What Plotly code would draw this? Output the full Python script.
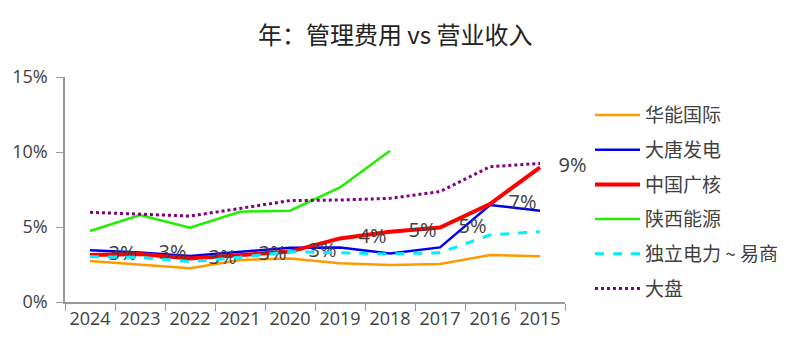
import plotly.graph_objects as go

years = ["2024", "2023", "2022", "2021", "2020", "2019", "2018", "2017", "2016", "2015"]

huaneng = [2.73, 2.47, 2.25, 2.80, 2.90, 2.58, 2.47, 2.53, 3.13, 3.05]
datang = [3.45, 3.30, 3.07, 3.36, 3.62, 3.64, 3.24, 3.64, 6.47, 6.09]
cgn = [3.13, 3.20, 2.90, 3.13, 3.36, 4.24, 4.69, 4.96, 6.53, 8.98]
shaanxi = [4.73, 5.80, 4.96, 6.02, 6.09, 7.64, 10.09, None, None, None]
duli = [3.02, 2.98, 2.69, 2.98, 3.36, 3.29, 3.20, 3.29, 4.47, 4.69]
dapan = [5.98, 5.87, 5.73, 6.24, 6.76, 6.80, 6.91, 7.36, 9.02, 9.24]

cgn_labels = [f"{round(v):.0f}%" for v in cgn]

FONT = "Noto Sans CJK SC, Noto Sans, sans-serif"
LAT = "Open Sans, Noto Sans CJK SC, sans-serif"
TXT = "#404040"

fig = go.Figure()
fig.add_trace(go.Scatter(x=years, y=huaneng, name="华能国际", mode="lines", legendgroup="a",
                         line=dict(color="#FF9900", width=2.5)))
fig.add_trace(go.Scatter(x=years, y=datang, name="大唐发电", mode="lines", legendgroup="b",
                         line=dict(color="#0000EE", width=2.5)))
fig.add_trace(go.Scatter(x=years, y=cgn, name="中国广核", mode="lines+markers+text", legendgroup="c",
                         text=cgn_labels, textposition="middle right", cliponaxis=False,
                         marker=dict(size=28, color="rgba(0,0,0,0)"),
                         textfont=dict(size=20, color=TXT, family=LAT),
                         line=dict(color="#FF0000", width=4)))
fig.add_trace(go.Scatter(x=years, y=shaanxi, name="陕西能源", mode="lines", legendgroup="d",
                         line=dict(color="#22EE00", width=2.5)))
fig.add_trace(go.Scatter(x=years, y=duli, name="独立电力 ~ 易商", mode="lines", legendgroup="e",
                         line=dict(color="#00EEFF", width=3, dash="dash")))
fig.add_trace(go.Scatter(x=years, y=dapan, name="大盘", mode="lines", legendgroup="f",
                         line=dict(color="#800080", width=3, dash="dot")))

fig.update_layout(
    width=800, height=353,
    margin=dict(l=65, r=235, t=77, b=51),
    paper_bgcolor="white", plot_bgcolor="white",
    font=dict(family=FONT, color=TXT),
    title=dict(text="年：管理费用 vs 营业收入", x=0.494, xanchor="center",
               y=0.9, yanchor="middle", font=dict(size=24, color="#222222", family=FONT)),
    showlegend=True,
    legend=dict(x=1.05, xanchor="left", y=0.915, yanchor="top",
                font=dict(size=19, color=TXT, family=FONT), traceorder="grouped",
                itemwidth=45, maxheight=400,
                bgcolor="rgba(0,0,0,0)", tracegroupgap=7),
    xaxis=dict(type="category", range=[-0.5, 9.5], showgrid=False, showline=True,
               linecolor="#999999", tickangle=0, automargin=False,
               linewidth=1.5, ticks="outside", tickson="boundaries", ticklen=7,
               tickcolor="#999999", tickfont=dict(size=18, color=TXT, family=LAT), zeroline=False),
    yaxis=dict(range=[0, 15], tickvals=[0, 5, 10, 15], automargin=False,
               ticktext=["0%", "5%", "10%", "15%"], showgrid=False, showline=True,
               linecolor="#999999", linewidth=1.5, ticks="outside", ticklen=7,
               ticklabelstandoff=5,
               tickcolor="#999999", tickfont=dict(size=18, color=TXT, family=LAT), zeroline=False),
)

fig.write_html("out.html")
